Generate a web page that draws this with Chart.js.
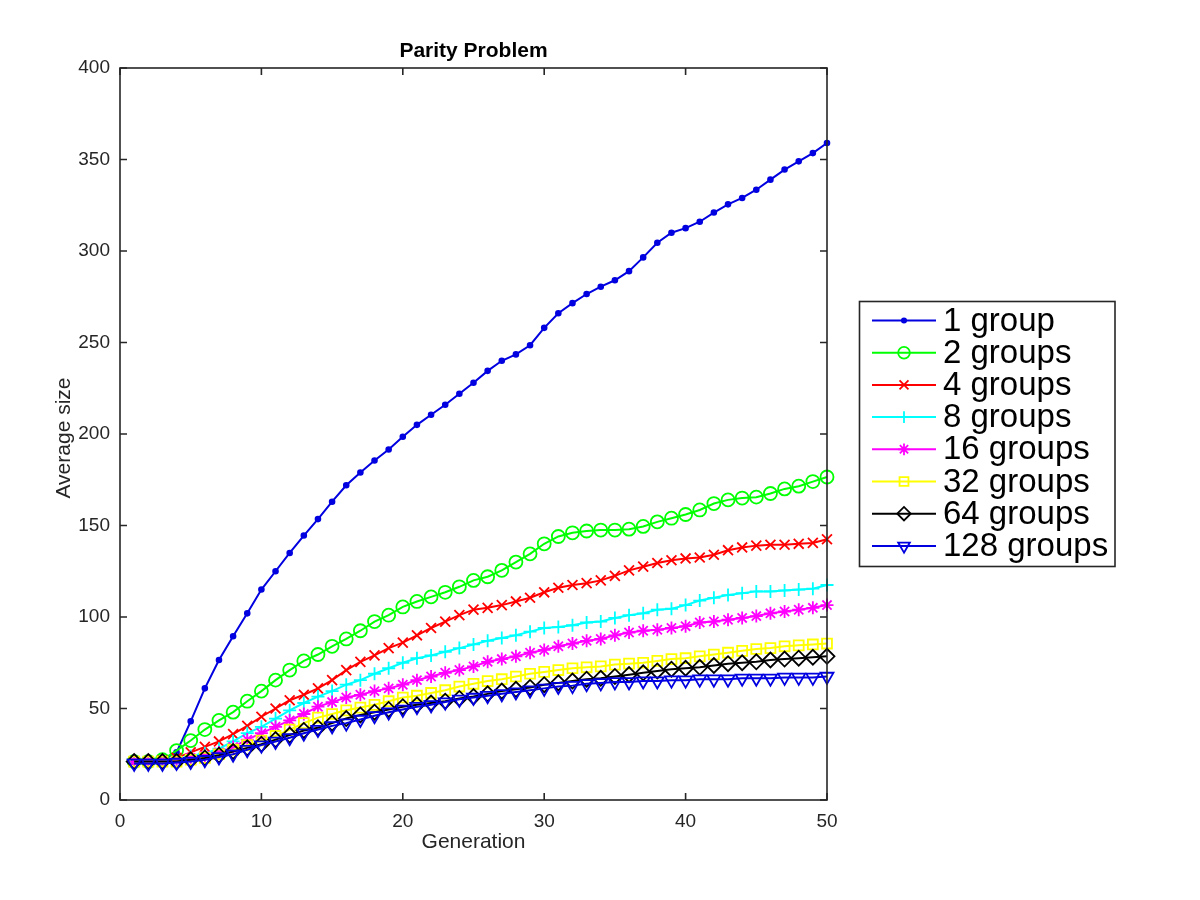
<!DOCTYPE html>
<html>
<head>
<meta charset="utf-8">
<script src="https://cdn.jsdelivr.net/npm/chart.js@4.4.1/dist/chart.umd.min.js"></script>
<style>
  html, body { margin: 0; padding: 0; background: #ffffff; }
  #wrap { position: relative; width: 1200px; height: 900px; }
  canvas { display: block; }
</style>
</head>
<body>
<div id="wrap"><canvas id="c" width="1200" height="900"></canvas></div>
<script>
// ---- data ----
const generations = [1,2,3,4,5,6,7,8,9,10,11,12,13,14,15,16,17,18,19,20,21,22,23,24,25,26,27,28,29,30,31,32,33,34,35,36,37,38,39,40,41,42,43,44,45,46,47,48,49,50];
const seriesNames = ['1 group','2 groups','4 groups','8 groups','16 groups','32 groups','64 groups','128 groups'];
const xTicks = [0,10,20,30,40,50];
const yTicks = [0,50,100,150,200,250,300,350,400];

const group1 = [21,21,22,26,43,61,76.5,89.5,102,115,125,135,144.5,153.5,163,172,179,185.5,191.5,198.5,205,210.5,216,222,228,234.5,240,243.5,248.5,258,266,271.5,276.5,280.5,284,289,296.5,304.5,310,312.5,316,321,325.5,329,333.5,339,344.5,349,353.5,359];
const group2 = [21,21,22,27,32.5,38.5,43.5,48,54,59.5,65.5,71,76,79.5,84,88,92.5,97.5,101,105.5,108.5,111,113.5,116.5,120,122,125.5,130,134.5,140,144,146,147,147.5,147.5,148,149.5,152,154,156,158.5,162,164,165,165.5,167.5,170,171.5,174,176.5];
const group4 = [21,21,21.5,23,26,29,32,36,40.5,45.5,50,54.5,57.5,61,65.5,71,75.5,79,83,86,90,94,97.5,101,104,105,106.5,108.5,110.5,113.5,116,117.5,118.5,120,122.5,125.5,127.5,129.5,131,132,132.5,134,136.5,138,139,139.5,139.5,140,140.5,142.5];
const group8 = [21,21,21,22,24,25.5,28,32,36.5,40,44.5,49,53,56.5,59.5,63,65.5,69,72,75,77.5,79,81,83,85,87,88.5,90,92,94,94.5,95.5,97,97.5,99.5,101,102,104,104.5,106.5,109,110.5,112,113,114,114,114.5,115,115.5,117.5];
const group16 = [21,21,21,21.5,23,24,26,29,33,36.5,40,43.5,47,51,53.5,56,57.5,59.5,61,63,65.5,67.5,69.5,71,73,75.5,77,78.5,80.5,82,84,85.5,87,88,90,91.5,92.5,93,94,95,97,97.5,98.5,99.5,100.5,102,103,104,105,106.5];
const group32 = [21,21,21,21,22,23,25,27.5,30,32.5,35,38.5,42,45,47,49,50.5,52,54,56,57,58.5,60,62,63.5,65,66,67.5,69,70,71,72,72.5,73,74,74.5,75,76,77,77.5,78.5,79.5,80.5,81.5,82.5,83,84,84.5,85,85.5];
const group64 = [21,21,21,21,22,23,24.5,26.5,28.5,30.5,33,35.5,38,39.5,42,44.5,46.5,48,49.5,51,52,53,54,55.5,56.5,58,59.5,60.5,61.5,63,64,65,66,66.5,67.5,68.5,69.5,70.5,71.5,72,72.5,73.5,74.5,75,75.5,76.5,77,77.5,78,78.5];
const group128 = [20,20,20,20.5,21,22,23.5,25,27.5,30,32,34,36.5,38.5,40.5,42,44,46,48,49.5,51,52,53.5,55,56,57,58,59,60,61,62,62.5,63.5,64,64.5,64.5,65,65,65.5,65.5,66,66,66,66.5,66.5,66.5,67,67,67,67.5];

const seriesValues = [group1, group2, group4, group8, group16, group32, group64, group128];

// ---- styles ----
const colors = ['#0000e0','#00ff00','#ff0000','#00ffff','#ff00ff','#ffff00','#000000','#0000e0'];
const markers = [
  {style:'circle', r:2.4, fill:true, rot:0},
  {style:'circle', r:6.5, fill:false, rot:0},
  {style:'crossRot', r:7, fill:false, rot:0},
  {style:'cross', r:6.5, fill:false, rot:0},
  {style:'star', r:6.5, fill:false, rot:0},
  {style:'rect', r:7, fill:false, rot:0},
  {style:'rectRot', r:7.5, fill:false, rot:0},
  {style:'triangle', r:7.5, fill:false, rot:180}
];
const FONT = '"Liberation Sans", Arial, Helvetica, sans-serif';
const AXIS_COLOR = '#262626';
const LINE_W = 2;
const MARK_W = 1.8;

const datasets = seriesValues.map((vals, i) => ({
  label: seriesNames[i],
  data: generations.map((g, k) => ({x: g, y: vals[k]})),
  borderColor: colors[i],
  backgroundColor: markers[i].fill ? colors[i] : 'rgba(0,0,0,0)',
  borderWidth: LINE_W,
  pointStyle: markers[i].style,
  pointRadius: markers[i].r,
  pointRotation: markers[i].rot,
  pointBorderColor: colors[i],
  pointBackgroundColor: markers[i].fill ? colors[i] : 'rgba(0,0,0,0)',
  pointBorderWidth: MARK_W,
  tension: 0,
  fill: false,
  clip: false,
  order: 20 - i
}));

function drawMarker(ctx, m, color, x, y) {
  ctx.save();
  ctx.strokeStyle = color;
  ctx.fillStyle = m.fill ? color : 'rgba(0,0,0,0)';
  ctx.lineWidth = MARK_W;
  const opts = {pointStyle: m.style, radius: m.r * 0.9, rotation: m.rot, borderWidth: MARK_W};
  if (Chart.helpers && Chart.helpers.drawPoint) {
    Chart.helpers.drawPoint(ctx, opts, x, y);
  } else {
    ctx.beginPath(); ctx.arc(x, y, m.r, 0, Math.PI * 2);
    if (m.fill) ctx.fill();
    ctx.stroke();
  }
  ctx.restore();
}

const decorPlugin = {
  id: 'decor',
  afterDraw(chart) {
    const ctx = chart.ctx;
    const a = chart.chartArea;
    const xs = chart.scales.x, ys = chart.scales.y;
    ctx.save();
    // axes box
    ctx.strokeStyle = AXIS_COLOR;
    ctx.lineWidth = 1.6;
    ctx.strokeRect(a.left, a.top, a.right - a.left, a.bottom - a.top);
    // inward ticks on all four sides
    const tl = 7;
    ctx.beginPath();
    xTicks.forEach(v => {
      const px = xs.getPixelForValue(v);
      ctx.moveTo(px, a.bottom); ctx.lineTo(px, a.bottom - tl);
      ctx.moveTo(px, a.top); ctx.lineTo(px, a.top + tl);
    });
    yTicks.forEach(v => {
      const py = ys.getPixelForValue(v);
      ctx.moveTo(a.left, py); ctx.lineTo(a.left + tl, py);
      ctx.moveTo(a.right, py); ctx.lineTo(a.right - tl, py);
    });
    ctx.stroke();

    // title and axis labels
    ctx.fillStyle = '#000000';
    ctx.textAlign = 'center';
    ctx.textBaseline = 'alphabetic';
    ctx.font = 'bold 21px ' + FONT;
    const cx = (a.left + a.right) / 2;
    ctx.fillText('Parity Problem', cx, 57);
    ctx.fillStyle = AXIS_COLOR;
    ctx.font = '21px ' + FONT;
    ctx.fillText('Generation', cx, 848);
    ctx.save();
    ctx.translate(70, (a.top + a.bottom) / 2 + 4);
    ctx.rotate(-Math.PI / 2);
    ctx.fillText('Average size', 0, 0);
    ctx.restore();

    // legend
    const L = {left: 859.5, top: 301.5, right: 1115, bottom: 566.5};
    ctx.fillStyle = '#ffffff';
    ctx.fillRect(L.left, L.top, L.right - L.left, L.bottom - L.top);
    ctx.strokeStyle = AXIS_COLOR;
    ctx.lineWidth = 1.6;
    ctx.strokeRect(L.left, L.top, L.right - L.left, L.bottom - L.top);
    const rowH = 32.2;
    ctx.font = '33px ' + FONT;
    ctx.textAlign = 'left';
    ctx.textBaseline = 'alphabetic';
    seriesNames.forEach((name, i) => {
      const y = 320.5 + i * rowH;
      ctx.strokeStyle = colors[i];
      ctx.lineWidth = LINE_W;
      ctx.beginPath(); ctx.moveTo(872, y); ctx.lineTo(936, y); ctx.stroke();
      drawMarker(ctx, markers[i], colors[i], 904, y);
      ctx.fillStyle = '#000000';
      ctx.fillText(name, 943, y + 10);
    });
    ctx.restore();
  }
};

new Chart(document.getElementById('c'), {
  type: 'line',
  data: { datasets },
  options: {
    responsive: false,
    animation: false,
    events: [],
    devicePixelRatio: 1,
    layout: { padding: { left: 0, top: 68, right: 373, bottom: 0 } },
    plugins: { legend: { display: false }, title: { display: false }, tooltip: { enabled: false } },
    scales: {
      x: {
        type: 'linear', min: 0, max: 50,
        afterBuildTicks: s => { s.ticks = xTicks.map(v => ({value: v})); },
        afterFit: s => { s.height = 100; },
        grid: { display: false, drawTicks: false },
        border: { display: false },
        ticks: { color: AXIS_COLOR, font: { family: FONT, size: 19 }, padding: 10, maxRotation: 0 }
      },
      y: {
        type: 'linear', min: 0, max: 400,
        afterBuildTicks: s => { s.ticks = yTicks.map(v => ({value: v})); },
        afterFit: s => { s.width = 120; },
        grid: { display: false, drawTicks: false },
        border: { display: false },
        ticks: { color: AXIS_COLOR, font: { family: FONT, size: 19 }, padding: 10 }
      }
    }
  },
  plugins: [decorPlugin]
});
</script>
</body>
</html>
